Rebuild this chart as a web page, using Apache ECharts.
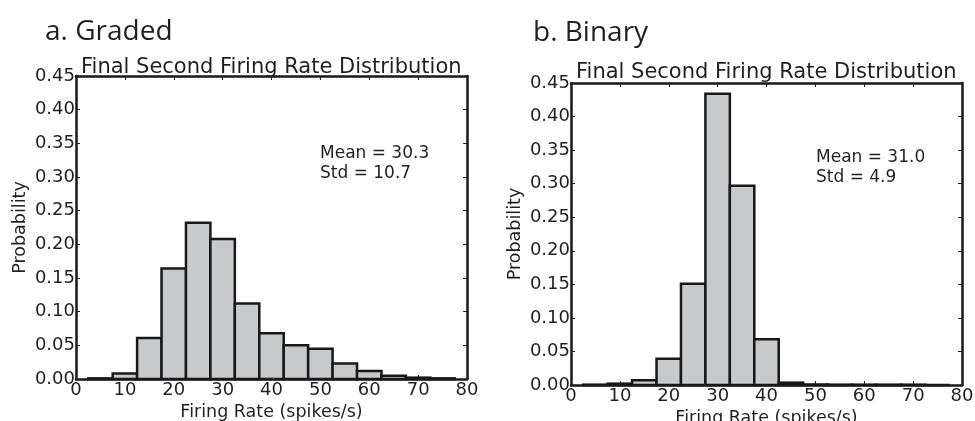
<!DOCTYPE html>
<html>
<head>
<meta charset="utf-8">
<script src="https://cdn.jsdelivr.net/npm/echarts@6/dist/echarts.min.js"></script>
<style>
  html, body { margin: 0; padding: 0; background: #fff; }
  #main { width: 975px; height: 421px; }
</style>
</head>
<body>
<div id="main"></div>
<script>
// bin centres (spikes/s), bins are 5 wide
var binCenters = [5, 10, 15, 20, 25, 30, 35, 40, 45, 50, 55, 60, 65, 70, 75];
var gradedProb = [0.001, 0.008, 0.061, 0.164, 0.232, 0.208, 0.112, 0.068, 0.050, 0.045, 0.023, 0.012, 0.005, 0.002, 0.001];
var binaryProb = [0.0005, 0.002, 0.007, 0.039, 0.151, 0.434, 0.297, 0.068, 0.0035, 0.0008, 0.0005, 0.0005, 0.0005, 0.0005, 0];
var xTicks = [0, 10, 20, 30, 40, 50, 60, 70, 80];
var yTicks = [0.00, 0.05, 0.10, 0.15, 0.20, 0.25, 0.30, 0.35, 0.40, 0.45];
var binWidth = 5;

var mainChart = echarts.init(document.getElementById('main'));

var tickFont = 'DejaVu Sans';
var ink = '#231f20';

function makePairs(vals) {
	var out = [];
	for (var i = 0; i < binCenters.length; i++) out.push([binCenters[i], vals[i]]);
	return out;
}

function renderBin(params, api) {
	var c = api.value(0), v = api.value(1);
	var p0 = api.coord([c - binWidth / 2, v]);
	var p1 = api.coord([c + binWidth / 2, 0]);
	return {
		type: 'rect',
		shape: { x: p0[0], y: p0[1], width: p1[0] - p0[0], height: p1[1] - p0[1] },
		style: { fill: '#c8c9cb', stroke: '#1a1718', lineWidth: 2.5 }
	};
}

function xAx(idx, pos) {
	var bottom = pos === 'bottom';
	return {
		type: 'value', gridIndex: idx, position: pos,
		min: xTicks[0], max: xTicks[xTicks.length - 1], interval: 10,
		name: bottom ? 'Firing Rate (spikes/s)' : '',
		nameLocation: 'middle', nameGap: 22,
		nameTextStyle: { fontFamily: tickFont, fontSize: 17.5, color: ink },
		axisLine: { show: true, onZero: false, lineStyle: { color: '#1a1718', width: 2.5 } },
		axisTick: { show: true, inside: true, length: 4, lineStyle: { color: ink, width: 1 } },
		axisLabel: { show: bottom, margin: 2, fontFamily: tickFont, fontSize: 18, color: ink },
		splitLine: { show: false }
	};
}

function yAx(idx, pos) {
	var left = pos === 'left';
	return {
		type: 'value', gridIndex: idx, position: pos,
		min: yTicks[0], max: yTicks[yTicks.length - 1], interval: 0.05,
		name: left ? 'Probability' : '',
		nameLocation: 'middle', nameGap: 47,
		nameTextStyle: { fontFamily: tickFont, fontSize: 17.5, color: ink },
		axisLine: { show: true, onZero: false, lineStyle: { color: '#1a1718', width: 2.5 } },
		axisTick: { show: true, inside: true, length: 4, lineStyle: { color: ink, width: 1 } },
		axisLabel: { show: left, margin: 1, fontFamily: tickFont, fontSize: 18, color: ink,
			formatter: function (v) { return v.toFixed(2); } },
		splitLine: { show: false }
	};
}

function txt(x, y, s, size, font, lh) {
	return { type: 'text', left: x, top: y,
		style: { text: s, fontFamily: font || tickFont, fontSize: size, lineHeight: lh || size * 1.2, fill: ink } };
}

chartOpt = {
	animation: false,
	backgroundColor: '#fff',
	grid: [
		{ left: 76, top: 76, width: 391, height: 303, containLabel: false, outerBoundsMode: 'none' },
		{ left: 571, top: 83, width: 391, height: 302, containLabel: false, outerBoundsMode: 'none' }
	],
	xAxis: [xAx(0, 'bottom'), xAx(0, 'top'), xAx(1, 'bottom'), xAx(1, 'top')],
	yAxis: [yAx(0, 'left'), yAx(0, 'right'), yAx(1, 'left'), yAx(1, 'right')],
	graphic: [
		txt(45, 15, 'a. Graded', 28, 'Open Sans'),
		txt(533, 16, 'b. Binary', 28, 'Open Sans'),
		txt(81, 55, 'Final Second Firing Rate Distribution', 21),
		txt(576, 60, 'Final Second Firing Rate Distribution', 21),
		txt(320, 144, 'Mean = 30.3\nStd = 10.7', 17, null, 20),
		txt(816, 148, 'Mean = 31.0\nStd = 4.9', 17, null, 20)
	],
	series: [
		{ type: 'custom', xAxisIndex: 0, yAxisIndex: 0, renderItem: renderBin, data: makePairs(gradedProb) },
		{ type: 'custom', xAxisIndex: 2, yAxisIndex: 2, renderItem: renderBin, data: makePairs(binaryProb) }
	]
};
mainChart.setOption(chartOpt);
</script>
</body>
</html>
